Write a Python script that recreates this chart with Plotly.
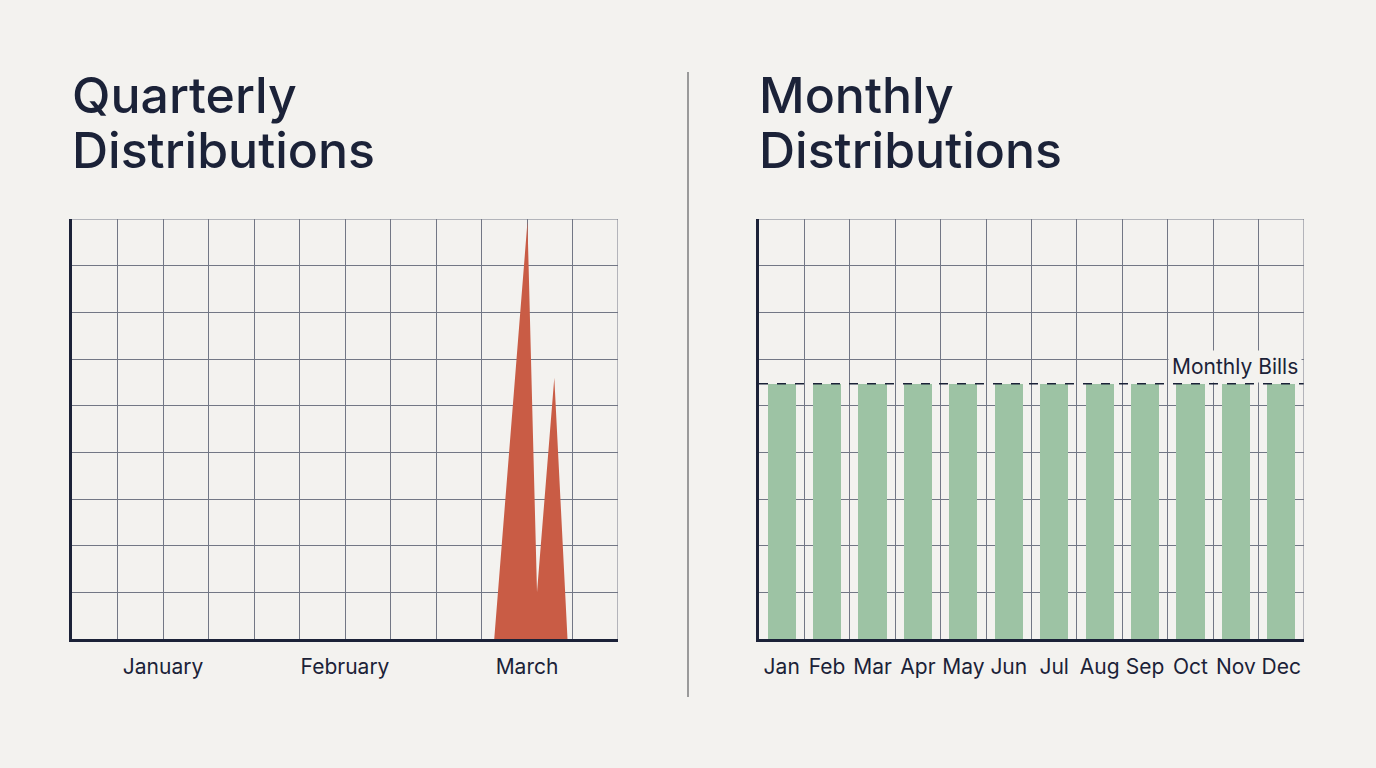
import plotly.graph_objects as go

# ---- data ----
quarter_labels = ["January", "February", "March"]
quarter_label_pos = [2, 6, 10]
spike_x = [9.28, 10.01, 10.22, 10.60, 10.89]
spike_y = [0, 8.94, 1.0, 5.6, 0]

months = ["Jan", "Feb", "Mar", "Apr", "May", "Jun", "Jul", "Aug", "Sep", "Oct", "Nov", "Dec"]
month_pos = [0.5, 1.5, 2.5, 3.5, 4.5, 5.5, 6.5, 7.5, 8.5, 9.5, 10.5, 11.5]
monthly_values = [5.47] * 12
bill_level = 5.47

BG = "#F3F2EF"
NAVY = "#1B2238"
GRID = "#727785"
RED = "#C95C45"
GREEN = "#9DC3A4"
FONT = "Inter"

fig = go.Figure()

fig.add_trace(go.Scatter(x=spike_x, y=spike_y, mode="lines", fill="toself",
                         fillcolor=RED, line=dict(color=RED, width=0),
                         xaxis="x", yaxis="y", hoverinfo="skip", showlegend=False))

fig.add_trace(go.Bar(x=month_pos, y=monthly_values, width=0.62, marker=dict(color=GREEN, line=dict(width=0)),
                     xaxis="x2", yaxis="y2", showlegend=False))

W, H = 1376, 768
y_dom = [1 - 639 / H, 1 - 219 / H]

common_y = dict(range=[0, 9], dtick=1, tick0=0, showgrid=True, gridcolor=GRID, gridwidth=1,
                showticklabels=False, zeroline=False, showline=True, linecolor=NAVY, linewidth=2.5,
                ticks="", fixedrange=True)

tickfont = dict(size=21, color=NAVY, family=FONT)

fig.update_layout(
    width=W, height=H,
    margin=dict(l=0, r=0, t=0, b=0),
    paper_bgcolor=BG, plot_bgcolor=BG,
    font=dict(family=FONT, color=NAVY, size=20),
    bargap=0,
    xaxis=dict(domain=[72 / W, 618 / W], range=[0, 12], anchor="y",
               tickvals=quarter_label_pos, ticktext=quarter_labels, showgrid=False,
               minor=dict(tick0=0, dtick=1, showgrid=True, gridcolor=GRID, gridwidth=1, ticks=""),
               zeroline=False, showline=True, linecolor=NAVY, linewidth=2.5, ticks="",
               ticklabelstandoff=7, tickfont=tickfont),
    yaxis=dict(domain=y_dom, anchor="x", **common_y),
    xaxis2=dict(domain=[759 / W, 1304 / W], range=[0, 12], anchor="y2",
                tickvals=month_pos, ticktext=months, showgrid=False,
                minor=dict(tick0=0, dtick=1, showgrid=True, gridcolor=GRID, gridwidth=1, ticks=""),
                zeroline=False, showline=True, linecolor=NAVY, linewidth=2.5, ticks="",
                ticklabelstandoff=7, tickfont=tickfont),
    yaxis2=dict(domain=y_dom, anchor="x2", **common_y),
)

# dashed monthly bills line
fig.add_shape(type="line", xref="x2", yref="y2", x0=0, x1=12, y0=bill_level, y1=bill_level,
              line=dict(color=NAVY, width=1.5, dash="dash"), layer="above")
fig.add_annotation(xref="x2", yref="y2", x=12, y=bill_level, xanchor="right", yanchor="bottom",
                   text="Monthly Bills", showarrow=False, bgcolor=BG, borderpad=3, yshift=1, xshift=-2,
                   font=dict(size=21, color=NAVY, family=FONT))

# top and right grid borders
for xr, yr in [("x", "y"), ("x2", "y2")]:
    fig.add_shape(type="line", xref=xr, yref=yr, x0=0, x1=12, y0=9, y1=9,
                  line=dict(color=GRID, width=1), layer="below")
    fig.add_shape(type="line", xref=xr, yref=yr, x0=12, x1=12, y0=0, y1=9,
                  line=dict(color=GRID, width=1), layer="above")

# separator
fig.add_shape(type="line", xref="paper", yref="paper", x0=688 / W, x1=688 / W,
              y0=1 - 697 / H, y1=1 - 72 / H, line=dict(color="#9A9A9A", width=2))

# titles
for x0, words in [(70, ["Quarterly", "Distributions"]), (757, ["Monthly", "Distributions"])]:
    for i, w in enumerate(words):
        fig.add_annotation(xref="paper", yref="paper", x=x0 / W, y=1 - (95 + 55 * i) / H,
                           xanchor="left", yanchor="middle", text=w, showarrow=False,
                           font=dict(size=50, color=NAVY, family=FONT, weight=500))

fig.write_html("out.html")
